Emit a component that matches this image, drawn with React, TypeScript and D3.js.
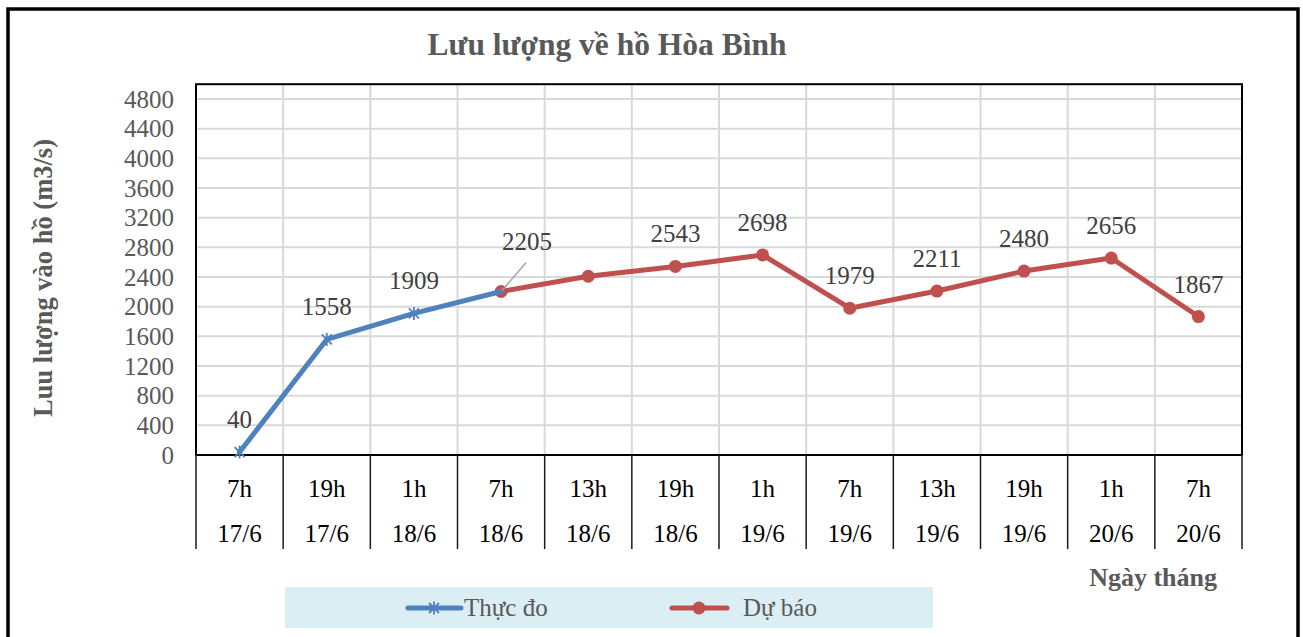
import React from "react";
import * as d3 from "d3";

const hours = ["7h", "19h", "1h", "7h", "13h", "19h", "1h", "7h", "13h", "19h", "1h", "7h"];
const dates = ["17/6", "17/6", "18/6", "18/6", "18/6", "18/6", "19/6", "19/6", "19/6", "19/6", "20/6", "20/6"];
const actual: (number | null)[] = [40, 1558, 1909, 2205, null, null, null, null, null, null, null, null];
const forecast: (number | null)[] = [null, null, null, 2205, 2410, 2543, 2698, 1979, 2211, 2480, 2656, 1867];
const forecastLabels: (number | null)[] = [null, null, null, null, null, 2543, 2698, 1979, 2211, 2480, 2656, 1867];
const yTicks = [0, 400, 800, 1200, 1600, 2000, 2400, 2800, 3200, 3600, 4000, 4400, 4800];

const BLUE = "#4F81BD";
const RED = "#C0504D";
const FONT = "'Liberation Serif', 'Times New Roman', serif";

export default function App() {
  const W = 1303, H = 637;
  const left = 196, right = 1242, top = 84.2, bottom = 455;
  const x = d3.scaleBand<number>().domain(d3.range(hours.length)).range([left, right]).padding(0);
  const bw = x.bandwidth();
  const cx = (i: number) => (x(i) as number) + bw / 2;
  const y = d3.scaleLinear().domain([0, 5000]).range([bottom, top]);

  const line = d3
    .line<number | null>()
    .defined((d) => d !== null)
    .x((_, i) => cx(i))
    .y((d) => y(d as number));

  const boundaries = d3.range(hours.length + 1).map((i) => left + i * bw);

  const star = (px: number, py: number, s: number) =>
    `M${px - s},${py - s}L${px + s},${py + s}M${px - s},${py + s}L${px + s},${py - s}M${px},${py - s * 1.3}L${px},${py + s * 1.3}`;

  return (
    <div style={{ position: "absolute", left: 0, top: 0 }}>
      <svg width={W} height={H} style={{ display: "block", background: "#fff" }}>
        {/* outer frame */}
        <rect x={8} y={9} width={1290} height={700} fill="#fff" stroke="#000" strokeWidth={3.5} />

        {/* title */}
        <text x={607} y={55} textAnchor="middle" fontFamily={FONT} fontWeight="bold" fontSize={31.5} fill="#595959">
          Lưu lượng về hồ Hòa Bình
        </text>

        {/* gridlines */}
        {yTicks.filter((t) => t > 0).map((t) => (
          <line key={"gy" + t} x1={left} x2={right} y1={y(t)} y2={y(t)} stroke="#D9D9D9" strokeWidth={2} />
        ))}
        {boundaries.slice(1, -1).map((b, i) => (
          <line key={"gx" + i} x1={b} x2={b} y1={top} y2={bottom} stroke="#D9D9D9" strokeWidth={2} />
        ))}

        {/* plot border */}
        <rect x={left} y={top} width={right - left} height={bottom - top} fill="none" stroke="#000" strokeWidth={2} />

        {/* x axis table lines */}
        {boundaries.map((b, i) => (
          <line key={"tx" + i} x1={b} x2={b} y1={bottom} y2={549} stroke="#1a1a1a" strokeWidth={1.5} />
        ))}

        {/* y tick labels */}
        {yTicks.map((t) => (
          <text key={"yt" + t} x={174} y={y(t) + 8.5} textAnchor="end" fontFamily={FONT} fontSize={25} fill="#595959">
            {t}
          </text>
        ))}

        {/* x labels */}
        {hours.map((h, i) => (
          <text key={"xh" + i} x={cx(i)} y={497} textAnchor="middle" fontFamily={FONT} fontSize={25} fill="#000">
            {h}
          </text>
        ))}
        {dates.map((d, i) => (
          <text key={"xd" + i} x={cx(i)} y={542} textAnchor="middle" fontFamily={FONT} fontSize={25} fill="#000">
            {d}
          </text>
        ))}

        {/* axis titles */}
        <text
          transform={`translate(52, 278) rotate(-90)`}
          textAnchor="middle"
          fontFamily={FONT}
          fontWeight="bold"
          fontSize={26.5}
          fill="#595959"
        >
          Luu lượng vào hồ (m3/s)
        </text>
        <text x={1217} y={586} textAnchor="end" fontFamily={FONT} fontWeight="bold" fontSize={26} fill="#595959">
          Ngày tháng
        </text>

        {/* forecast line */}
        <path d={line(forecast) || ""} fill="none" stroke={RED} strokeWidth={5} strokeLinejoin="round" strokeLinecap="round" />
        {forecast.map((v, i) =>
          v === null ? null : <circle key={"fc" + i} cx={cx(i)} cy={y(v)} r={6.5} fill={RED} />
        )}

        {/* actual line */}
        <path d={line(actual) || ""} fill="none" stroke={BLUE} strokeWidth={5} strokeLinejoin="round" strokeLinecap="round" />
        {actual.map((v, i) =>
          v === null || i === 3 ? null : (
            <path key={"am" + i} d={star(cx(i), y(v), 5)} stroke={BLUE} strokeWidth={1.8} fill="none" />
          )
        )}

        {/* data labels */}
        {actual.map((v, i) => {
          if (v === null) return null;
          if (i === 3) {
            const px = cx(i), py = y(v);
            return (
              <g key={"al" + i}>
                <line x1={px + 1} y1={py - 1} x2={px + 25} y2={py - 29} stroke="#A6A6A6" strokeWidth={1.5} />
                <text x={px + 26} y={py - 41} textAnchor="middle" fontFamily={FONT} fontSize={25} fill="#404040">
                  {v}
                </text>
              </g>
            );
          }
          return (
            <text key={"al" + i} x={cx(i)} y={y(v) - 24} textAnchor="middle" fontFamily={FONT} fontSize={25} fill="#404040">
              {v}
            </text>
          );
        })}
        {forecastLabels.map((v, i) =>
          v === null ? null : (
            <text key={"fl" + i} x={cx(i)} y={y(v) - 24} textAnchor="middle" fontFamily={FONT} fontSize={25} fill="#404040">
              {v}
            </text>
          )
        )}

        {/* legend */}
        <rect x={285} y={587} width={648} height={41} fill="#DAEEF3" />
        <line x1={408} x2={461} y1={608} y2={608} stroke={BLUE} strokeWidth={5} strokeLinecap="round" />
        <path d={star(434, 608, 5)} stroke={BLUE} strokeWidth={1.8} fill="none" />
        <text x={464} y={616} fontFamily={FONT} fontSize={25} fill="#595959">
          Thực đo
        </text>
        <line x1={672} x2={727} y1={608} y2={608} stroke={RED} strokeWidth={5} strokeLinecap="round" />
        <circle cx={699} cy={608} r={6.5} fill={RED} />
        <text x={743} y={616} fontFamily={FONT} fontSize={25} fill="#595959">
          Dự báo
        </text>
      </svg>
    </div>
  );
}
